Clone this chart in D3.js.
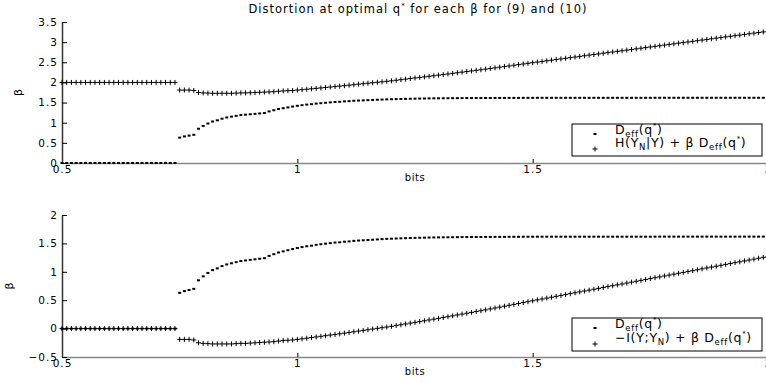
<!DOCTYPE html>
<html>
<head>
<meta charset="utf-8">
<script src="https://cdn.jsdelivr.net/npm/d3@7"></script>
<style>
  body { margin: 0; background: #fff; }
  text { font-family: "DejaVu Sans", "Liberation Sans", sans-serif; fill: #000; }
</style>
</head>
<body>
<div id="chart"></div>
<script>
// beta values (x axis), step 0.01
var bits = [0.50,0.51,0.52,0.53,0.54,0.55,0.56,0.57,0.58,0.59,0.60,0.61,0.62,0.63,0.64,0.65,0.66,0.67,0.68,0.69,
  0.70,0.71,0.72,0.73,0.74,0.75,0.76,0.77,0.78,0.79,0.80,0.81,0.82,0.83,0.84,0.85,0.86,0.87,0.88,0.89,
  0.90,0.91,0.92,0.93,0.94,0.95,0.96,0.97,0.98,0.99,1.00,1.01,1.02,1.03,1.04,1.05,1.06,1.07,1.08,1.09,
  1.10,1.11,1.12,1.13,1.14,1.15,1.16,1.17,1.18,1.19,1.20,1.21,1.22,1.23,1.24,1.25,1.26,1.27,1.28,1.29,
  1.30,1.31,1.32,1.33,1.34,1.35,1.36,1.37,1.38,1.39,1.40,1.41,1.42,1.43,1.44,1.45,1.46,1.47,1.48,1.49,
  1.50,1.51,1.52,1.53,1.54,1.55,1.56,1.57,1.58,1.59,1.60,1.61,1.62,1.63,1.64,1.65,1.66,1.67,1.68,1.69,
  1.70,1.71,1.72,1.73,1.74,1.75,1.76,1.77,1.78,1.79,1.80,1.81,1.82,1.83,1.84,1.85,1.86,1.87,1.88,1.89,
  1.90,1.91,1.92,1.93,1.94,1.95,1.96,1.97,1.98,1.99,2.00];

// D_eff(q*)
var deff = [0,0,0,0,0,0,0,0,0,0,0,0,0,0,0,0,0,0,0,0,0,0,0,0,0,
  0.63,0.66,0.68,0.70,0.85,0.92,0.98,1.03,1.06,1.10,1.13,1.15,1.17,1.19,1.20,1.21,1.22,1.23,1.24,1.28,
  1.31,1.34,1.36,1.38,1.40,1.42,
  1.435,1.45,1.46,1.475,1.485,1.495,1.505,1.515,1.52,1.53,
  1.535,1.545,1.55,1.555,1.56,1.565,1.57,1.575,1.58,1.583,
  1.586,1.589,1.592,1.595,1.597,1.599,1.601,1.603,1.605,1.606,
  1.607,1.608,1.609,1.61,1.611,1.612,1.612,1.613,1.613,1.614,
  1.614,1.615,1.615,1.615,1.616,1.616,1.616,1.617,1.617,1.617,
  1.618,1.618,1.618,1.618,1.618,1.618,1.618,1.618,1.618,1.618,
  1.618,1.618,1.618,1.618,1.618,1.618,1.618,1.618,1.618,1.618,
  1.618,1.618,1.618,1.618,1.618,1.619,1.619,1.619,1.619,1.619,
  1.619,1.619,1.619,1.619,1.619,1.619,1.619,1.619,1.619,1.619,
  1.619,1.619,1.619,1.619,1.619,1.619,1.619,1.619,1.619,1.619];

// H(Y_N|Y) + beta D_eff(q*)
var topPlus = [2,2,2,2,2,2,2,2,2,2,2,2,2,2,2,2,2,2,2,2,2,2,2,2,2,
  1.81,1.81,1.81,1.80,1.75,1.74,1.735,1.73,1.73,1.73,1.73,1.73,1.735,1.74,1.74,1.745,1.75,1.755,1.76,1.765,
  1.77,1.78,1.79,1.795,1.80,1.81,
  1.82,1.831,1.842,1.853,1.864,1.875,1.886,1.897,1.908,1.92,
  1.932,1.944,1.956,1.968,1.98,1.992,2.004,2.016,2.028,2.04,
  2.054,2.068,2.082,2.096,2.11,2.124,2.138,2.152,2.166,2.18,
  2.195,2.21,2.225,2.24,2.255,2.27,2.285,2.30,2.315,2.33,
  2.346,2.362,2.378,2.394,2.41,2.426,2.442,2.458,2.474,2.49,
  2.506,2.521,2.537,2.552,2.568,2.584,2.599,2.615,2.630,2.646,
  2.662,2.677,2.693,2.708,2.724,2.740,2.755,2.771,2.786,2.802,
  2.818,2.833,2.849,2.864,2.880,2.896,2.911,2.927,2.942,2.958,
  2.974,2.989,3.005,3.020,3.036,3.052,3.067,3.083,3.098,3.114,
  3.130,3.145,3.161,3.176,3.192,3.208,3.223,3.239,3.254,3.270];

// -I(Y;Y_N) + beta D_eff(q*)
var botPlus = [0,0,0,0,0,0,0,0,0,0,0,0,0,0,0,0,0,0,0,0,0,0,0,0,0,
  -0.19,-0.19,-0.19,-0.20,-0.25,-0.26,-0.265,-0.27,-0.27,-0.27,-0.27,-0.27,-0.265,-0.26,-0.26,-0.255,-0.25,-0.245,-0.24,-0.235,
  -0.23,-0.22,-0.21,-0.205,-0.20,-0.19,
  -0.18,-0.169,-0.158,-0.147,-0.136,-0.125,-0.114,-0.103,-0.092,-0.08,
  -0.068,-0.056,-0.044,-0.032,-0.02,-0.008,0.004,0.016,0.028,0.04,
  0.054,0.068,0.082,0.096,0.11,0.124,0.138,0.152,0.166,0.18,
  0.195,0.21,0.225,0.24,0.255,0.27,0.285,0.30,0.315,0.33,
  0.346,0.362,0.378,0.394,0.41,0.426,0.442,0.458,0.474,0.49,
  0.506,0.521,0.537,0.552,0.568,0.584,0.599,0.615,0.630,0.646,
  0.662,0.677,0.693,0.708,0.724,0.740,0.755,0.771,0.786,0.802,
  0.818,0.833,0.849,0.864,0.880,0.896,0.911,0.927,0.942,0.958,
  0.974,0.989,1.005,1.020,1.036,1.052,1.067,1.083,1.098,1.114,
  1.130,1.145,1.161,1.176,1.192,1.208,1.223,1.239,1.254,1.270];

var xTicks = [0.5, 1, 1.5, 2];
var topYTicks = [0, 0.5, 1, 1.5, 2, 2.5, 3, 3.5];
var botYTicks = [-0.5, 0, 0.5, 1, 1.5, 2];

var W = 766, H = 383;
var svg = d3.select("#chart").append("svg")
  .attr("width", W).attr("height", H);

var x = d3.scaleLinear().domain([0.5, 2]).range([62, 768]);
var fmt = d3.format("~g");

// title
var title = svg.append("text")
  .attr("x", 418).attr("y", 13)
  .attr("text-anchor", "middle")
  .style("font-size", "11.5px")
  .style("letter-spacing", "1px");
title.append("tspan").text("Distortion at optimal q");
title.append("tspan").attr("dy", -5).style("font-size", "7px").text("*");
title.append("tspan").attr("dy", 5).text(" for each \u03b2 for (9) and (10)");

function drawPanel(cfg){
  var y = d3.scaleLinear().domain(cfg.domain).range([cfg.bottom, cfg.top]);
  var g = svg.append("g");

  var xAxis = g.append("g")
    .attr("transform", "translate(0," + cfg.bottom + ")")
    .call(d3.axisBottom(x).tickValues(xTicks).tickFormat(fmt)
      .tickSizeInner(-4).tickSizeOuter(0).tickPadding(3));
  xAxis.select(".domain").attr("stroke", "#888").attr("stroke-width", 1.5);
  xAxis.selectAll("text").style("font-size", "10.5px").style("letter-spacing", "1px")
    .style("font-family", "'DejaVu Sans'");

  var yAxis = g.append("g")
    .attr("transform", "translate(62,0)")
    .call(d3.axisLeft(y).tickValues(cfg.ticks).tickFormat(fmt)
      .tickSizeInner(-5).tickSizeOuter(0).tickPadding(4));
  yAxis.select(".domain").attr("stroke", "#333").attr("stroke-width", 1.5);
  yAxis.selectAll("text").style("font-size", "10.5px").style("letter-spacing", "1px")
    .style("font-family", "'DejaVu Sans'");

  g.append("text")
    .attr("x", 415).attr("y", cfg.bottom + 18)
    .attr("text-anchor", "middle")
    .style("font-size", "10px")
    .style("letter-spacing", "0.5px")
    .text("bits");

  g.append("text")
    .attr("transform", "translate(" + cfg.ylabX + "," + ((cfg.top + cfg.bottom) / 2) + ") rotate(-90)")
    .attr("text-anchor", "middle")
    .style("font-size", "11px")
    .text("\u03b2");

  // D_eff dots
  g.append("g").selectAll("rect")
    .data(bits)
    .join("rect")
    .attr("x", function(d){ return x(d) - 1.5; })
    .attr("y", function(d, i){ return y(deff[i]) - 1; })
    .attr("width", 3).attr("height", 2)
    .attr("fill", "#000");

  // plus markers
  g.append("g").selectAll("path")
    .data(bits)
    .join("path")
    .attr("transform", function(d, i){ return "translate(" + x(d) + "," + y(cfg.plus[i]) + ")"; })
    .attr("d", "M-2.5,0H2.5M0,-2.5V2.5")
    .attr("stroke", "#000").attr("stroke-width", 1).attr("fill", "none");

  // legend
  var lg = g.append("g").attr("transform", "translate(572," + cfg.legTop + ")");
  lg.append("rect").attr("width", 190).attr("height", cfg.legH)
    .attr("fill", "#fff").attr("stroke", "#000").attr("stroke-width", 1);
  lg.append("rect").attr("x", 21.5).attr("y", 9).attr("width", 3).attr("height", 2).attr("fill", "#000");
  lg.append("path").attr("transform", "translate(23," + (cfg.legH - 7) + ")")
    .attr("d", "M-2.5,0H2.5M0,-2.5V2.5").attr("stroke", "#000");

  var t1 = lg.append("text").attr("x", 43).attr("y", 10)
    .style("font-size", "12.5px").style("letter-spacing", "0.7px");
  subText(t1, "D", "eff", "(q", ")");

  var t2 = lg.append("text").attr("x", 43).attr("y", cfg.legH - 9)
    .style("font-size", "12.5px").style("letter-spacing", "0.7px");
  cfg.line2(t2);
}

function subText(t, a, sub, b, c){
  t.append("tspan").text(a);
  t.append("tspan").attr("dy", 3).style("font-size", "8.5px").text(sub);
  t.append("tspan").attr("dy", -3).text(b);
  t.append("tspan").attr("dy", -6).style("font-size", "7px").text("*");
  t.append("tspan").attr("dy", 6).text(c);
}

drawPanel({
  domain: [0, 3.5], ticks: topYTicks, top: 22, bottom: 163,
  plus: topPlus, ylabX: 22, legTop: 124, legH: 32,
  line2: function(t){
    t.append("tspan").text("H(Y");
    t.append("tspan").attr("dy", 3).style("font-size", "8.5px").text("N");
    t.append("tspan").attr("dy", -3).text("|Y) + \u03b2 ");
    subText(t, "D", "eff", "(q", ")");
  }
});

drawPanel({
  domain: [-0.5, 2], ticks: botYTicks, top: 215, bottom: 357,
  plus: botPlus, ylabX: 13, legTop: 318, legH: 33,
  line2: function(t){
    t.append("tspan").text("\u2212I(Y;Y");
    t.append("tspan").attr("dy", 3).style("font-size", "8.5px").text("N");
    t.append("tspan").attr("dy", -3).text(") + \u03b2 ");
    subText(t, "D", "eff", "(q", ")");
  }
});
</script>
</body>
</html>
